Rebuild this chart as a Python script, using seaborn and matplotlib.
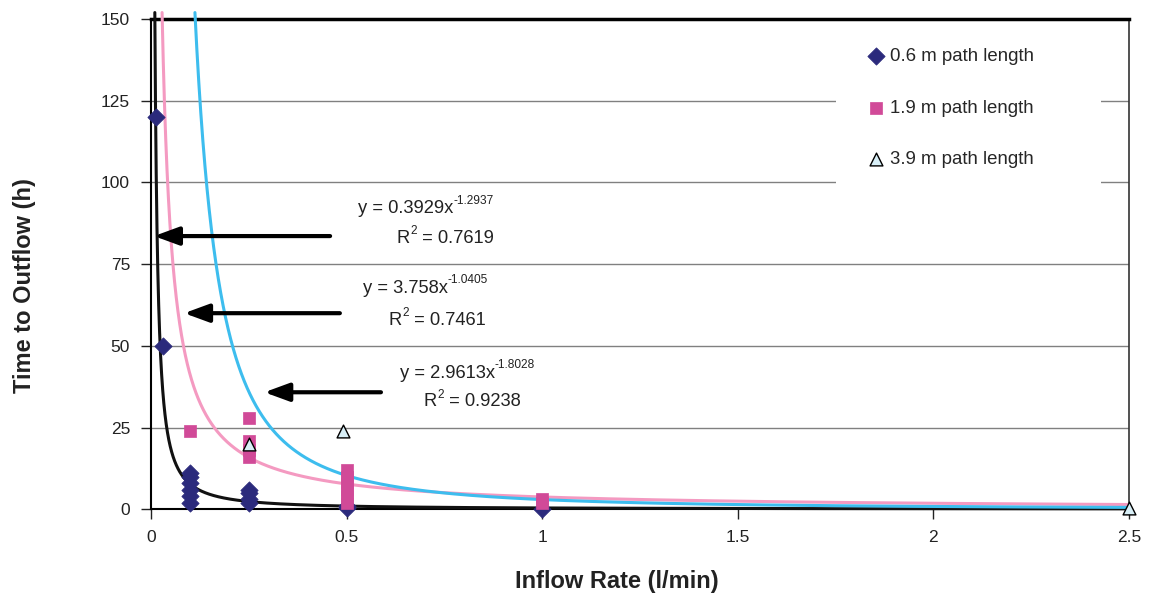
import numpy as np
import pandas as pd
import matplotlib
matplotlib.use("Agg")
import matplotlib.pyplot as plt
from matplotlib.patches import Rectangle
import seaborn as sns

# ---- data ----
x_06 = [0.013, 0.03, 0.1, 0.1, 0.1, 0.1, 0.1, 0.1, 0.25, 0.25, 0.25, 0.25, 0.5, 0.5, 1.0]
y_06 = [120, 50, 11, 10, 8, 6, 4, 2, 6, 5, 3, 2, 1, 0.5, 0.2]

x_19 = [0.1, 0.25, 0.25, 0.25, 0.25, 0.5, 0.5, 0.5, 0.5, 0.5, 0.5, 1.0, 1.0]
y_19 = [24, 28, 21, 18, 16, 12, 10, 8, 6, 4, 2, 3, 2]

x_39 = [0.25, 0.49, 2.5]
y_39 = [20, 24, 0.5]

labels = ["0.6 m path length", "1.9 m path length", "3.9 m path length"]

# power-law trendlines shown on the chart: y = a * x^b
fit_a = ["0.3929", "3.758", "2.9613"]
fit_b = ["-1.2937", "-1.0405", "-1.8028"]
fit_r2 = ["0.7619", "0.7461", "0.9238"]

x_ticks = [0, 0.5, 1, 1.5, 2, 2.5]
x_ticklabels = ["0", "0.5", "1", "1.5", "2", "2.5"]
y_ticks = [0, 25, 50, 75, 100, 125, 150]

# ---- styling ----
sns.set_style("white")
plt.rcParams["font.family"] = ["Liberation Sans", "DejaVu Sans"]

c_dia = "#2B2A7C"
c_sq = "#D14A98"
c_tri_face = "#D8EFF7"
line_cols = ["#111111", "#F49AC1", "#3DBDEE"]
txt_col = "#222222"

fig = plt.figure(figsize=(11.52, 5.97), dpi=100)
ax = fig.add_axes([0.131, 0.147, 0.849, 0.821])

# gridlines
for yv in y_ticks[1:-1]:
    ax.axhline(yv, color="#808080", lw=1.0, zorder=0)

# white legend background (hides gridlines like the original)
ax.add_patch(Rectangle((0.700, 0.65), 0.971 - 0.700, 0.35, transform=ax.transAxes,
                       facecolor="white", edgecolor="none", zorder=1))

# trendlines
for a, b, col in zip(fit_a, fit_b, line_cols):
    a = float(a); b = float(b)
    x0 = (152.0 / a) ** (1.0 / b)
    xx = np.geomspace(x0, 2.5, 3000)
    dfl = pd.DataFrame({"x": xx, "y": a * xx ** b})
    sns.lineplot(data=dfl, x="x", y="y", ax=ax, color=col, lw=2.2, zorder=3,
                 sort=False, estimator=None, clip_on=False)

# scatter points
df06 = pd.DataFrame({"x": x_06, "y": y_06})
df19 = pd.DataFrame({"x": x_19, "y": y_19})
df39 = pd.DataFrame({"x": x_39, "y": y_39})
sns.scatterplot(data=df06, x="x", y="y", ax=ax, marker="D", s=78, color=c_dia,
                edgecolor=c_dia, linewidth=0.5, zorder=4, clip_on=False, label=labels[0])
sns.scatterplot(data=df19, x="x", y="y", ax=ax, marker="s", s=85, color=c_sq,
                edgecolor=c_sq, linewidth=0.5, zorder=4, clip_on=False, label=labels[1])
sns.scatterplot(data=df39, x="x", y="y", ax=ax, marker="^", s=85, color=c_tri_face,
                edgecolor="black", linewidth=1.0, zorder=5, clip_on=False, label=labels[2])

ax.set_xlim(0, 2.5)
ax.set_ylim(0, 150)
ax.set_xticks(x_ticks)
ax.set_xticklabels(x_ticklabels)
ax.set_yticks(y_ticks)
ax.tick_params(axis="both", labelsize=12.5, colors=txt_col, length=7, width=1,
               direction="out", pad=8)
ax.tick_params(axis="y", left=True)
ax.tick_params(axis="x", bottom=True)

ax.set_xlabel("Inflow Rate (l/min)", fontsize=17, fontweight="bold", color=txt_col)
ax.set_ylabel("Time to Outflow (h)", fontsize=17, fontweight="bold", color=txt_col)
ax.xaxis.set_label_coords(0.4765, -0.1245)
ax.yaxis.set_label_coords(-0.118, 0.457)

for sp in ["left", "bottom"]:
    ax.spines[sp].set_color("black")
    ax.spines[sp].set_linewidth(1.5)
ax.spines["top"].set_color("black")
ax.spines["top"].set_linewidth(2.5)
ax.spines["right"].set_color("#333333")
ax.spines["right"].set_linewidth(1.2)

# arrows
arrows = [((0.458, 83.6), (0.008, 83.6)),
          ((0.483, 60.0), (0.085, 60.0)),
          ((0.588, 35.8), (0.29, 35.8))]
for (tail, tip) in arrows:
    ax.annotate("", xy=tip, xytext=tail,
                arrowprops=dict(arrowstyle="-|>,head_length=1.5,head_width=0.55",
                                color="black", lw=3, shrinkA=0, shrinkB=0),
                zorder=6)

# equations (superscripts placed right after the base text)
eq_pos = [(0.529, 92.0), (0.542, 67.6), (0.636, 41.6)]
r2_pos = [(0.629, 83.0), (0.608, 57.9), (0.698, 33.0)]
for a, b, r2, ep, rp in zip(fit_a, fit_b, fit_r2, eq_pos, r2_pos):
    t1 = ax.text(ep[0], ep[1], "y = %sx" % a, ha="left", va="center",
                 fontsize=13.2, color=txt_col, zorder=6)
    ax.annotate(b, xy=(1.0, 0.62), xycoords=t1, ha="left", va="bottom",
                fontsize=8.6, color=txt_col, zorder=6)
    t2 = ax.text(rp[0], rp[1], "R", ha="left", va="center",
                 fontsize=13.2, color=txt_col, zorder=6)
    t3 = ax.annotate("2", xy=(1.0, 0.55), xycoords=t2, ha="left", va="bottom",
                     fontsize=8.6, color=txt_col, zorder=6)
    ax.annotate(" = %s" % r2, xy=(1.0, 0.0), xycoords=(t3, t2), ha="left",
                va="bottom", fontsize=13.2, color=txt_col, zorder=6)

leg = ax.legend(loc="upper left", bbox_to_anchor=(0.727, 0.941), frameon=False,
                fontsize=13.4, labelspacing=1.86, handletextpad=0.0, borderpad=0.0,
                handlelength=1.5, borderaxespad=0)
leg.set_zorder(7)

fig.savefig("out.png", dpi=100)
